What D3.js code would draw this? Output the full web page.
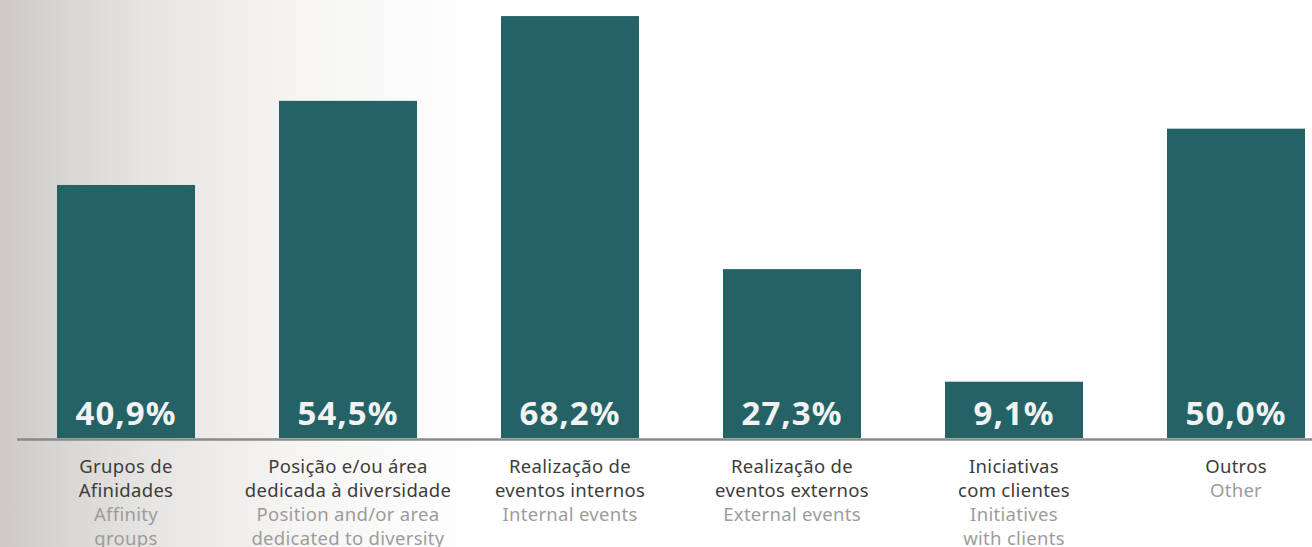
<!DOCTYPE html>
<html>
<head>
<meta charset="utf-8">
<script src="https://cdn.jsdelivr.net/npm/d3@7"></script>
<style>
  html, body { margin: 0; padding: 0; background: #fff; }
  svg { display: block; }
</style>
</head>
<body>
<div id="chart"></div>
<script>
// Data
const categoriesPt = [
    ["Grupos de", "Afinidades"],
    ["Posição e/ou área", "dedicada à diversidade"],
    ["Realização de", "eventos internos"],
    ["Realização de", "eventos externos"],
    ["Iniciativas", "com clientes"],
    ["Outros"]
]
const categoriesEn = [
    ["Affinity", "groups"],
    ["Position and/or area", "dedicated to diversity"],
    ["Internal events"],
    ["External events"],
    ["Initiatives", "with clients"],
    ["Other"]
]
const values = [40.9, 54.5, 68.2, 27.3, 9.1, 50.0]

// set the dimensions
const width = 1312
const height = 547
const baseY = 438

const svg = d3.select("#chart")
    .append("svg")
    .attr("width", width)
    .attr("height", height)

// background fade on the left
const defs = svg.append("defs")
const grad = defs.append("linearGradient")
    .attr("id", "bgFade")
    .attr("x1", 0).attr("x2", 1).attr("y1", 0).attr("y2", 0)
grad.append("stop").attr("offset", "0%").attr("stop-color", "#cdcac6")
grad.append("stop").attr("offset", "31%").attr("stop-color", "#e7e5e3")
grad.append("stop").attr("offset", "62%").attr("stop-color", "#f6f5f4")
grad.append("stop").attr("offset", "100%").attr("stop-color", "#ffffff")

svg.append("rect")
    .attr("x", 0).attr("y", 0)
    .attr("width", 480).attr("height", height)
    .attr("fill", "url(#bgFade)")

// scales
const idx = values.map((d, i) => i)
const x = d3.scaleBand()
    .domain(idx)
    .range([15, 1347])
    .paddingInner(84 / 222)
    .paddingOuter(42 / 222)

const y = d3.scaleLinear()
    .domain([0, 70.8])
    .range([baseY, 0])

// bars
svg.selectAll(".bar")
    .data(values)
    .enter()
    .append("rect")
    .attr("class", "bar")
    .attr("x", (d, i) => x(i))
    .attr("y", d => y(d))
    .attr("width", x.bandwidth())
    .attr("height", d => y(0) - y(d))
    .attr("fill", "#246266")

// baseline
svg.append("line")
    .attr("x1", 17)
    .attr("x2", width)
    .attr("y1", baseY + 1.5)
    .attr("y2", baseY + 1.5)
    .attr("stroke", "#8a8a8a")
    .attr("stroke-width", 2.5)

// value labels
svg.selectAll(".val")
    .data(values)
    .enter()
    .append("text")
    .attr("class", "val")
    .attr("x", (d, i) => x(i) + x.bandwidth() / 2)
    .attr("y", baseY - 13)
    .attr("text-anchor", "middle")
    .attr("font-family", "'Noto Sans', sans-serif")
    .attr("font-weight", "bold")
    .attr("font-size", 33)
    .attr("letter-spacing", 1)
    .attr("fill", "#f2f2f2")
    .text(d => d3.format(".1f")(d).replace(".", ",") + "%")

// category labels
const lineH = 24
idx.forEach(function (i) {
    const cx = x(i) + x.bandwidth() / 2
    const t = svg.append("text")
        .attr("text-anchor", "middle")
        .attr("font-family", "'Noto Sans', sans-serif")
        .attr("font-size", 18.5)
        .attr("letter-spacing", 0.3)
    let row = 0
    categoriesPt[i].forEach(function (s) {
        t.append("tspan")
            .attr("x", cx)
            .attr("y", 473 + row * lineH)
            .attr("fill", "#3c3c3c")
            .text(s)
        row++
    })
    categoriesEn[i].forEach(function (s) {
        t.append("tspan")
            .attr("x", cx)
            .attr("y", 473 + row * lineH)
            .attr("fill", "#9c9c9c")
            .text(s)
        row++
    })
})
</script>
</body>
</html>
